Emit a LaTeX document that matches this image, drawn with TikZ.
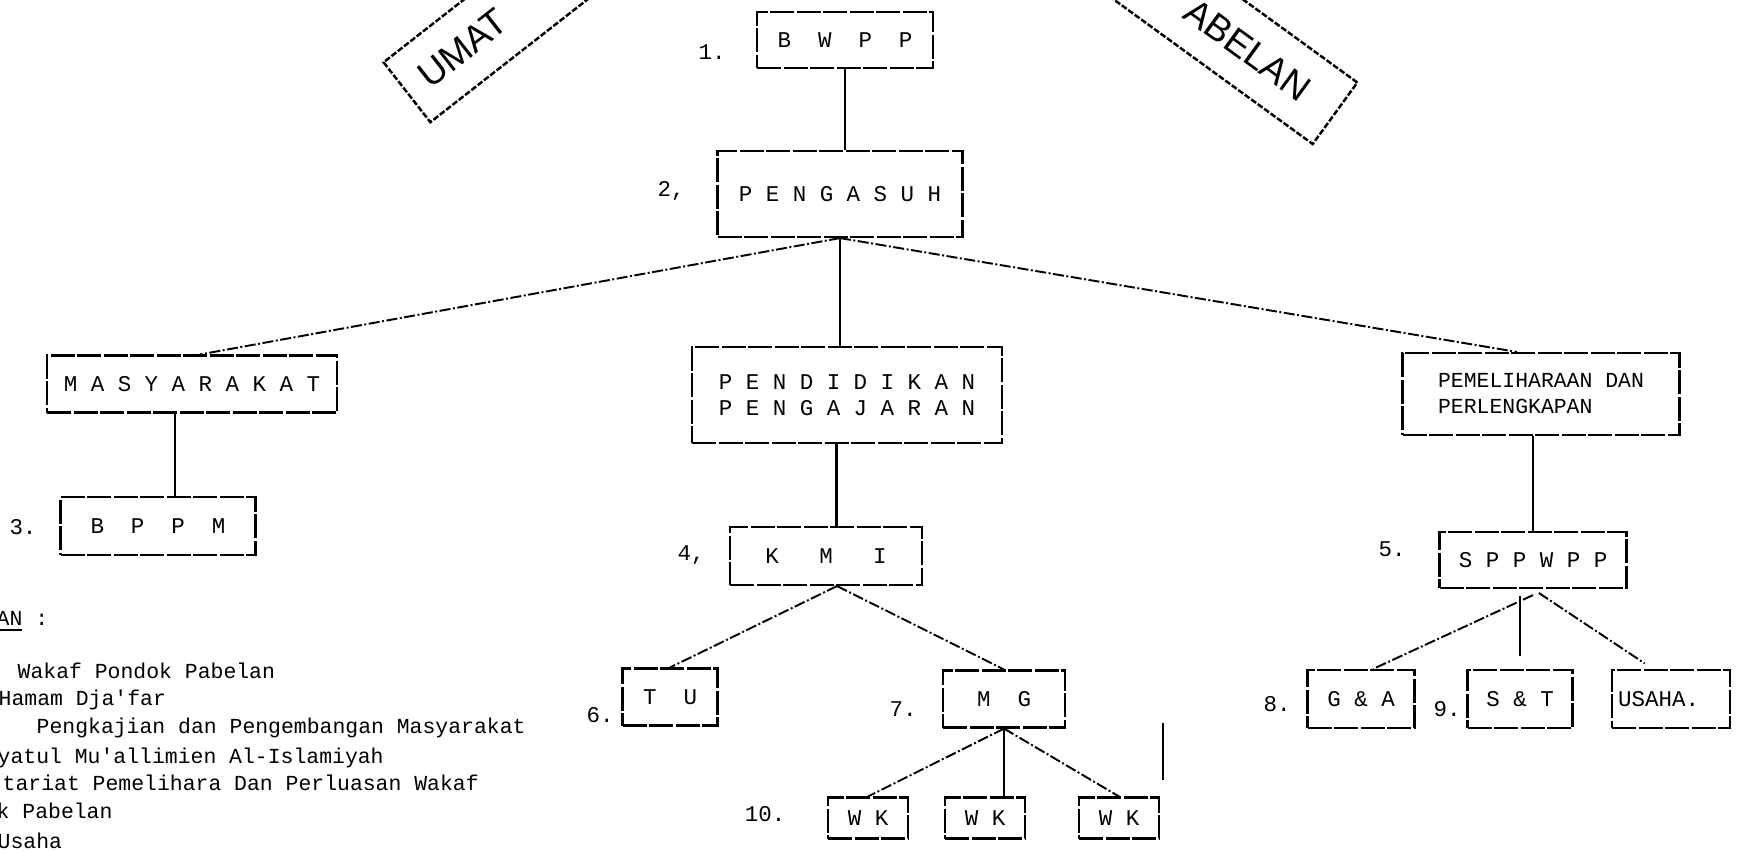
\documentclass[tikz,border=0pt]{standalone}
\usepackage{fontspec}
\setmonofont{Liberation Mono}
\setsansfont{Liberation Sans}
\usetikzlibrary{calc}

\begin{document}
\begin{tikzpicture}[x=0.1mm, y=-0.1mm,
        box/.style={draw, line width=0.6pt, dash pattern=on 2.4mm off 0.25mm, inner sep=0pt, align=center, font=\ttfamily\fontsize{6.4}{7.4}\selectfont},
        tline/.style={line width=0.6pt},
        dline/.style={line width=0.55pt, dash pattern=on 1.1mm off 0.25mm on 0.2mm off 0.25mm},
        numlbl/.style={inner sep=0pt, anchor=base, font=\ttfamily\fontsize{6.4}{7.4}\selectfont},
        legline/.style={inner sep=0pt, anchor=base west, font=\ttfamily\fontsize{6.1}{7.4}\selectfont},
        stampbox/.style={draw, line width=0.7pt, dash pattern=on 0.6mm off 0.2mm, minimum height=7.6mm, inner ysep=0pt, font=\sffamily\fontsize{10.5}{12}\selectfont}]
        \useasboundingbox (0,0) rectangle (1740,850);
        \clip (0,0) rectangle (1740,850);

        % Stamps, cut by the top edge
        \node[stampbox, rotate=38, anchor=west, inner xsep=2mm, text width=28mm, align=left] (umat) at (406,93) {UMAT};
        \node[stampbox, rotate=-36, anchor=east, inner xsep=3.5mm, text width=25mm, align=right] (pabelan) at (1336,114) {ABELAN};

        % Top of the chart
        \node[box, minimum width=17.6mm, minimum height=5.6mm] (bwpp) at (845,40) {B~~W~~P~~P};
        \node[box, minimum width=24.5mm, minimum height=8.6mm] (pengasuh) at (840,194) {P E N G A S U H};

        % Left branch
        \node[box, minimum width=29mm, minimum height=5.7mm] (masyarakat) at (192,384) {M A S Y A R A K A T};
        \node[box, minimum width=19.5mm, minimum height=5.8mm] (bppm) at (158,526) {B~~P~~P~~M};

        % Middle branch
        \node[box, minimum width=31mm, minimum height=9.6mm] (pendidikan) at (847,395) {P E N D I D I K A N\\P E N G A J A R A N};
        \node[box, minimum width=19.2mm, minimum height=5.8mm] (kmi) at (826,556) {K~~~M~~~I};
        \node[box, minimum width=9.5mm, minimum height=5.7mm] (tu) at (670,697) {T~~U};
        \node[box, minimum width=12.2mm, minimum height=5.7mm] (mg) at (1004,699) {M~~G};
        \foreach \x [count=\i] in {868,985,1119} {
            \node[box, minimum width=8mm, minimum height=4.1mm] (wk\i) at (\x,818) {W K};
        }

        % Right branch
        \node[box, minimum width=27.7mm, minimum height=8.2mm, align=left, font=\ttfamily\fontsize{6.1}{7.4}\selectfont] (pemeliharaan) at (1541,394) {PEMELIHARAAN DAN\\PERLENGKAPAN};
        \node[box, minimum width=18.7mm, minimum height=5.6mm] (sppwpp) at (1533,560) {S P P W P P};
        \node[box, minimum width=10.7mm, minimum height=5.8mm] (ga) at (1361,699) {G \& A};
        \node[box, minimum width=10.5mm, minimum height=5.8mm] (st) at (1520,699) {S \& T};
        \node[box, minimum width=11.8mm, minimum height=5.8mm, text width=10.6mm, align=left] (usaha) at (1671,699) {USAHA.};

        % Numbers beside the boxes
        \foreach \x/\y/\t [count=\i] in {712/59/1., 671/196/{2,}, 23/534/3., 691/560/{4,}, 1392/556/5., 600/722/6., 903/716/7., 1277/711/8., 1447/716/9., 765/821/10.} {
            \node[numlbl] (num\i) at (\x,\y) {\t};
        }

        % Legend, cut by the left edge
        \node[legline] (leghead) at (-4,625) {\underline{AN}~:};
        \foreach \x/\y/\t [count=\i] in {17/678/Wakaf Pondok Pabelan, -2/705/Hamam Dja'far, 36/733/Pengkajian dan Pengembangan Masyarakat, -3/763/yatul Mu'allimien Al-Islamiyah, 2/790/tariat Pemelihara Dan Perluasan Wakaf, -4/818/k Pabelan, -3/848/Usaha} {
            \node[legline] (leg\i) at (\x,\y) {\t};
        }

        % Connect the boxes
        \draw[tline] (bwpp.south) -- (bwpp.south |- pengasuh.north);
        \draw[dline] (pengasuh.south) -- ([xshift=0.8mm]masyarakat.north);
        \draw[tline] (pengasuh.south) -- (pengasuh.south |- pendidikan.north);
        \draw[dline] (pengasuh.south) -- ([xshift=-2.4mm]pemeliharaan.north);

        \coordinate (mb) at ($(masyarakat.south)!0.5!(bppm.north)$);
        \draw[tline] (mb |- masyarakat.south) -- (mb |- bppm.north);

        \coordinate (pk) at ($(pendidikan.south)!0.5!(kmi.north)$);
        \draw[tline] (pk |- pendidikan.south) -- (pk |- kmi.north);
        \draw[dline] ([xshift=1.1mm]kmi.south) -- (tu.north);
        \draw[dline] ([xshift=1.1mm]kmi.south) -- (mg.north);
        \foreach \i in {1,3} {
            \draw[dline] (mg.south) -- (wk\i.north);
        }
        \draw[tline] (mg.south) -- (mg.south |- wk2.north);
        \draw[tline] (1163,723) -- (1163,780);

        \draw[tline] (sppwpp.north) -- (sppwpp.north |- pemeliharaan.south);
        \draw[dline] ([yshift=-0.6mm]sppwpp.south) -- ([xshift=1.2mm]ga.north);
        \draw[tline, shorten <=0.7mm, shorten >=1.3mm] (st.north |- sppwpp.south) -- (st.north);
        \draw[dline, shorten <=0.7mm, shorten >=1mm] (sppwpp.south) -- ([xshift=-1.8mm]usaha.north);
\end{tikzpicture}
\end{document}
